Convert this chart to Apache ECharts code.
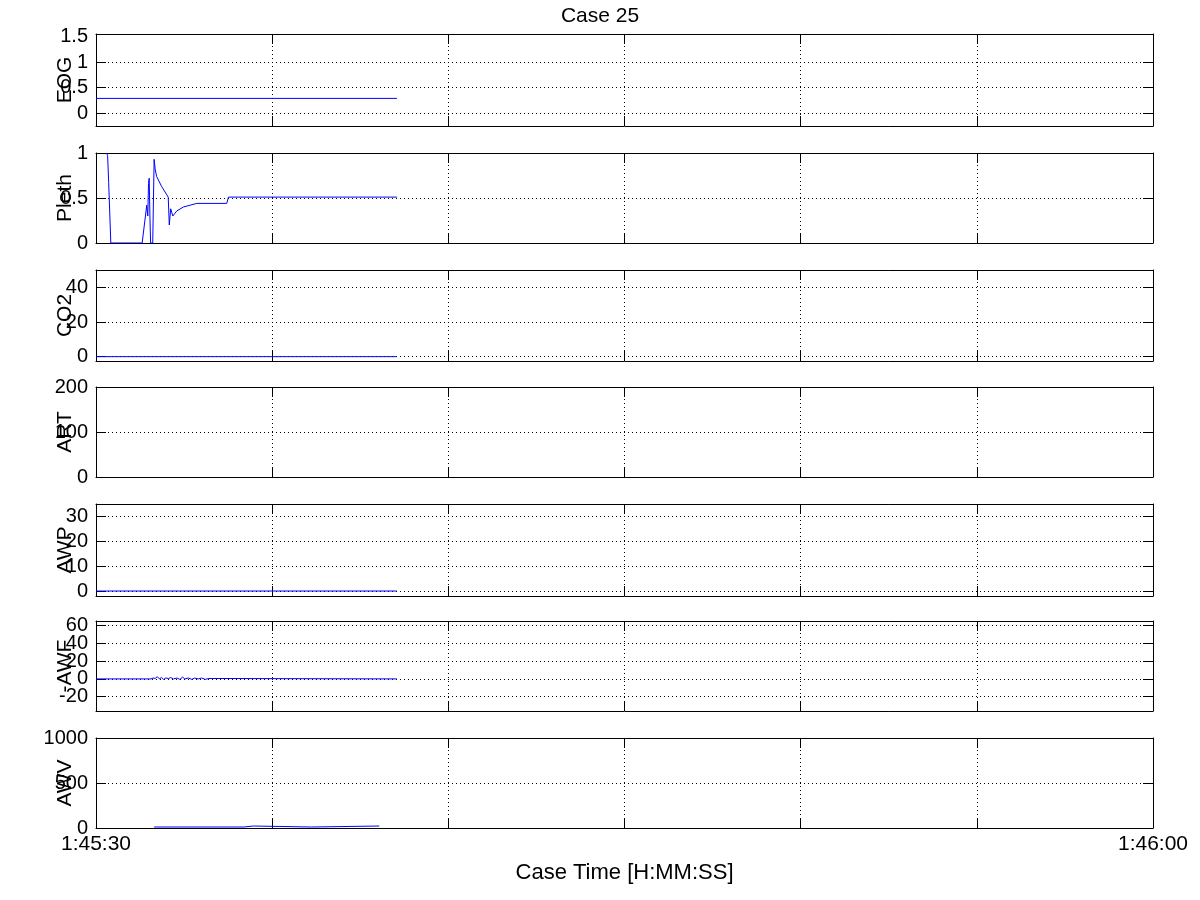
<!DOCTYPE html>
<html><head><meta charset="utf-8">
<script src="https://cdn.jsdelivr.net/npm/echarts@6/dist/echarts.min.js"></script>
<style>html,body{margin:0;padding:0;background:#fff}#c{width:1200px;height:900px}</style>
</head><body><div id="c"></div>
<script>
// ---- data ----
const panelNames = ['EOG', 'Pleth', 'CO2', 'ART', 'AWP', '-AWF', 'AWV'];
const yMin = [-0.25, 0, -2.5, 0, -2, -36, 0];
const yMax = [1.55, 1, 50, 200, 35, 65, 1000];
const yTickLabels = [[0, 0.5, 1, 1.5], [0, 0.5, 1], [0, 20, 40], [0, 100, 200], [0, 10, 20, 30], [-20, 0, 20, 40, 60], [0, 500, 1000]];
const yGridTicks = [[0, 0.5, 1], [0, 0.5, 1], [0, 20, 40], [0, 100, 200], [0, 10, 20, 30], [-20, 0, 20, 40, 60], [0, 500, 1000]];
const xTickSeconds = [0, 5, 10, 15, 20, 25, 30];
const xTickLabels = ['1:45:30', '', '', '', '', '', '1:46:00'];

const eogData = [[0, 0.29], [8.54, 0.29]];
const plethData = [[0.30, 1.0], [0.33, 0.97], [0.36, 0.67], [0.42, 0], [1.31, 0], [1.44, 0.42], [1.47, 0.30], [1.49, 0.66], [1.51, 0.72], [1.53, 0.3], [1.55, 0], [1.61, 0], [1.65, 0.93], [1.68, 0.82], [1.72, 0.74], [1.86, 0.63], [2.05, 0.51], [2.08, 0.2], [2.12, 0.38], [2.14, 0.40], [2.18, 0.30], [2.29, 0.355], [2.48, 0.40], [2.86, 0.44], [3.71, 0.44], [3.76, 0.51], [8.54, 0.51]];
const co2Data = [[0, 0], [8.54, 0]];
const artData = [];
const awpData = [[0, 0], [1.83, 0], [1.84, 0.8], [1.85, 0], [2.04, 0], [2.05, 0.8], [2.06, 0], [2.45, 0], [2.46, 0.6], [2.47, 0], [8.54, 0]];
const awfData = [[0, 0], [1.56, 0], [1.62, 1], [1.68, 0.5], [1.74, 2.5], [1.8, 0], [1.86, 1.5], [1.92, -0.5], [1.98, 1], [2.06, 0.5], [2.12, 1.5], [2.2, 0], [2.3, 1], [2.38, -0.5], [2.46, 2], [2.52, 0], [2.62, 1], [2.72, -0.5], [2.8, 1], [2.9, 0], [3.0, 1], [3.1, -0.5], [3.2, 0.5], [3.25, 0], [8.54, 0]];
const awvData = [[1.65, 11], [4.2, 11], [4.2, 22], [4.47, 22], [4.47, 11], [6.12, 11], [6.12, 22], [8.04, 22]];
const seriesData = [eogData, plethData, co2Data, artData, awpData, awfData, awvData];

// ---- layout ----
const tops = [34, 153, 270, 387, 504, 621, 738];
const heights = [92, 90, 91, 90, 92, 90, 90];
const FONT = "'Liberation Sans', Arial, Helvetica, sans-serif";
const dotted = { type: [1, 3], color: '#000', width: 1 };
const solid = { color: '#000', width: 1 };
const labelStyle = {
  show: true, interval: 0, fontSize: 20, color: '#000', fontFamily: FONT, margin: 8,
  hideOverlap: false, showMinLabel: true, showMaxLabel: true, formatter: v => String(v)
};

const grids = [], xAxes = [], yAxes = [], series = [];
panelNames.forEach((name, i) => {
  grids.push({ left: 96, right: 47, top: tops[i], height: heights[i], show: false });
  const last = i === panelNames.length - 1;
  xAxes.push({
    type: 'value', gridIndex: i, position: 'bottom', min: 0, max: 30, interval: 5,
    axisLine: { show: true, onZero: false, lineStyle: solid },
    axisTick: { show: true, inside: true, length: 10, lineStyle: solid },
    axisLabel: {
      show: last, fontSize: 21, color: '#000', fontFamily: FONT, margin: 6, hideOverlap: false,
      showMinLabel: true, showMaxLabel: true,
      formatter: v => { const k = xTickSeconds.indexOf(v); return k >= 0 ? xTickLabels[k] : ''; }
    },
    splitLine: { show: true, lineStyle: dotted },
    name: last ? 'Case Time [H:MM:SS]' : '', nameLocation: 'middle', nameGap: 34, nameMoveOverlap: false,
    nameTextStyle: { fontSize: 22, color: '#000', fontFamily: FONT }
  });
  xAxes.push({
    type: 'value', gridIndex: i, position: 'top', min: 0, max: 30, interval: 5,
    axisLine: { show: true, onZero: false, lineStyle: solid },
    axisTick: { show: true, inside: true, length: 10, lineStyle: solid },
    axisLabel: { show: false }, splitLine: { show: false }
  });
  const labs = yTickLabels[i];
  const evenLabs = labs.filter((v, k) => k % 2 === 0);
  const oddLabs = labs.filter((v, k) => k % 2 === 1);
  yAxes.push({
    type: 'value', gridIndex: i, position: 'left', min: yMin[i], max: yMax[i],
    axisLine: { show: true, onZero: false, lineStyle: solid },
    axisTick: { show: true, inside: true, length: 10, lineStyle: solid, customValues: yGridTicks[i] },
    axisLabel: Object.assign({}, labelStyle, { customValues: evenLabs }),
    splitLine: { show: true, lineStyle: dotted },
    name: name, nameLocation: 'middle', nameGap: 20, nameMoveOverlap: false,
    nameTextStyle: { fontSize: 21, color: '#000', fontFamily: FONT }
  });
  yAxes.push({
    type: 'value', gridIndex: i, position: 'right', min: yMin[i], max: yMax[i],
    axisLine: { show: true, onZero: false, lineStyle: solid },
    axisTick: { show: true, inside: true, length: 10, lineStyle: solid, customValues: yGridTicks[i] },
    axisLabel: { show: false }, splitLine: { show: false }
  });
  yAxes.push({
    type: 'value', gridIndex: i, position: 'left', offset: 0, min: yMin[i], max: yMax[i],
    axisLine: { show: false }, axisTick: { show: false }, splitLine: { show: false },
    axisLabel: oddLabs.length ? Object.assign({}, labelStyle, { customValues: oddLabs }) : { show: false }
  });
  series.push({
    type: 'line', xAxisIndex: 2 * i, yAxisIndex: 3 * i, data: seriesData[i],
    showSymbol: false, symbol: 'none', lineStyle: { color: '#0000ff', width: 1 }, itemStyle: { color: '#0000ff' },
    animation: false, silent: true
  });
});

const chart = echarts.init(document.getElementById('c'), null, { renderer: 'canvas' });
chart.setOption({
  backgroundColor: '#fff',
  animation: false,
  textStyle: { fontFamily: FONT },
  title: { text: 'Case 25', left: 'center', top: 1, textStyle: { fontSize: 21, fontWeight: 'normal', color: '#000', fontFamily: FONT } },
  grid: grids, xAxis: xAxes, yAxis: yAxes, series: series
});
</script></body></html>
